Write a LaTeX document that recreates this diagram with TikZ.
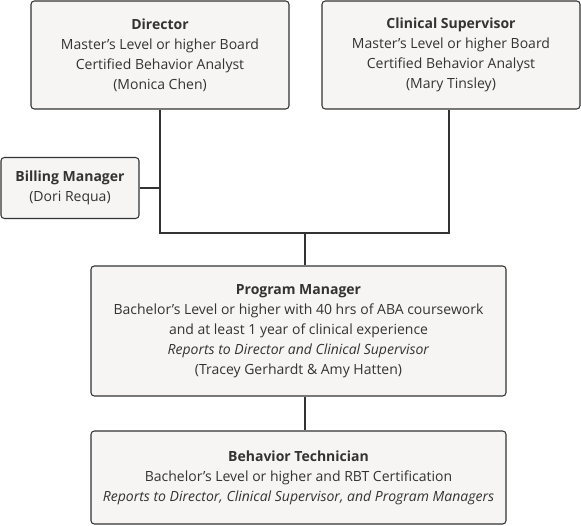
\documentclass[tikz,border=0pt]{standalone}
\usepackage{fontspec}
\setmainfont{Open Sans}
\usepackage{xcolor}
\definecolor{boxfill}{HTML}{F7F5F3}
\definecolor{ink}{HTML}{333333}

\tikzset{
    box/.style={draw=ink, fill=boxfill, rounded corners=2.5pt, line width=0.8pt,
        align=center, text=ink, inner sep=0pt,
        font=\fontsize{10.5pt}{15pt}\selectfont},
    conn/.style={draw=ink, line width=1.3pt}
}

\begin{document}
\begin{tikzpicture}[x=0.75pt, y=-0.75pt]
    \useasboundingbox (0,0) rectangle (581,525);

    % Top level
    \node[box, minimum width=193.5pt, minimum height=81pt] (director) at (160,55)
        {\textbf{Director}\\Master’s Level or higher Board\\Certified Behavior Analyst\\(Monica Chen)};
    \node[box, minimum width=193.5pt, minimum height=81pt] (clinical) at (451,55)
        {\textbf{Clinical Supervisor}\\Master’s Level or higher Board\\Certified Behavior Analyst\\(Mary Tinsley)};

    % Billing
    \node[box, minimum width=103.5pt, minimum height=45.75pt] (billing) at (70,188)
        {\textbf{Billing Manager}\\(Dori Requa)};

    % Program manager
    \node[box, minimum width=311.25pt, minimum height=97.5pt] (program) at (298.5,331)
        {\textbf{Program Manager}\\Bachelor’s Level or higher with 40 hrs of ABA coursework\\and at least 1 year of clinical experience\\\textit{Reports to Director and Clinical Supervisor}\\(Tracey Gerhardt \& Amy Hatten)};

    % Behavior technician
    \node[box, minimum width=311.25pt, minimum height=69.75pt] (technician) at (298.5,477.5)
        {\textbf{Behavior Technician}\\Bachelor’s Level or higher and RBT Certification\\\textit{Reports to Director, Clinical Supervisor, and Program Managers}};

    % Connectors
    \coordinate (bus) at (305,233);
    \draw[conn] (director.south) |- (bus) -| ([xshift=-1.5pt]clinical.south);
    \draw[conn] (billing.east) -- (billing.east -| director.south);
    \draw[conn] (bus) -- (bus |- program.north);
    \draw[conn] (bus |- program.south) -- (bus |- technician.north);
\end{tikzpicture}
\end{document}
